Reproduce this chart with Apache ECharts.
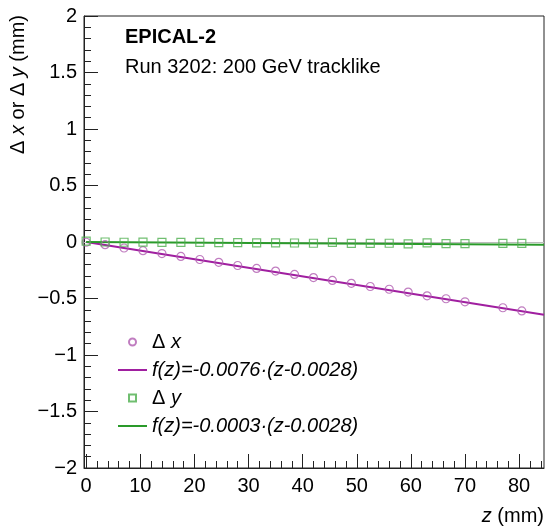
<!DOCTYPE html>
<html>
<head>
<meta charset="utf-8">
<script src="https://cdn.jsdelivr.net/npm/echarts@6/dist/echarts.min.js"></script>
<style>
  html, body { margin: 0; padding: 0; background: #fff; }
  #chart { width: 549px; height: 526px; }
</style>
</head>
<body>
<div id="chart"></div>
<script>
// Measured positions along z (mm)
const zValues = [0, 3.5, 7, 10.5, 14, 17.5, 21, 24.5, 28, 31.5, 35, 38.5,
                 42, 45.5, 49, 52.5, 56, 59.5, 63, 66.5, 70, 77, 80.5];
// Residual offsets (mm)
const dxValues = [-0.002, -0.024, -0.053, -0.077, -0.102, -0.128, -0.155, -0.180, -0.208, -0.234, -0.257, -0.287,
                  -0.315, -0.340, -0.366, -0.394, -0.418, -0.443, -0.476, -0.502, -0.529, -0.582, -0.610];
const dyValues = [0.008, 0.000, -0.002, -0.001, -0.003, -0.004, -0.004, -0.006, -0.005, -0.007, -0.008, -0.009,
                  -0.011, -0.003, -0.012, -0.012, -0.011, -0.017, -0.008, -0.014, -0.015, -0.012, -0.012];
// Linear fit parameters f(z) = slope * (z - offset)
const fitX = { slope: -0.0076, offset: 0.0028 };
const fitY = { slope: -0.0003, offset: 0.0028 };

const xRange = [-0.4, 84.6];
const xMajorTicks = [0, 10, 20, 30, 40, 50, 60, 70, 80];
const xMinorTicks = [2, 4, 6, 8, 12, 14, 16, 18, 22, 24, 26, 28, 32, 34, 36, 38, 42, 44, 46, 48,
                     52, 54, 56, 58, 62, 64, 66, 68, 72, 74, 76, 78, 82, 84];

const nameDx = 'Δ x';
const nameFitX = 'f(z)=-0.0076·(z-0.0028)';
const nameDy = 'Δ y';
const nameFitY = 'f(z)=-0.0003·(z-0.0028)';

const FONT = '"Liberation Sans", Arial, Helvetica, sans-serif';
const AXIS_COLOR = '#222';
const PURPLE_LINE = '#a01fa0';
const PURPLE_MARK = '#b05cb0';
const GREEN_LINE = '#2a9a2a';
const GREEN_MARK = '#4cae4c';

// Legend glyphs: a thin bar for fit lines, a small square for the Δy markers
const ICON_LINE = 'path://M0 0h29v2H0z';
const ICON_SQUARE = 'path://M0 0h8v8H0z';

function fitLine(fit) {
  const f = z => fit.slope * (z - fit.offset);
  return [[0, f(0)], [xRange[1], f(xRange[1])]];
}

const legendRich = {
  n: { fontFamily: FONT, fontSize: 20, color: '#000', lineHeight: 20 },
  i: { fontFamily: FONT, fontSize: 20, color: '#000', fontStyle: 'italic', lineHeight: 20 }
};

const chart = echarts.init(document.getElementById('chart'), null, { renderer: 'canvas' });

chart.setOption({
  animation: false,
  backgroundColor: '#fff',
  textStyle: { fontFamily: FONT },
  grid: {
    left: 84, right: 5, top: 16, bottom: 58,
    show: true, borderColor: AXIS_COLOR, borderWidth: 1, backgroundColor: 'transparent'
  },
  title: [
    { text: 'EPICAL-2', left: 125, top: 27, padding: 0,
      textStyle: { fontFamily: FONT, fontSize: 20, fontWeight: 'bold', color: '#000' } },
    { text: 'Run 3202: 200 GeV tracklike', left: 125, top: 57, padding: 0,
      textStyle: { fontFamily: FONT, fontSize: 20, fontWeight: 'normal', color: '#000' } }
  ],
  xAxis: [
    {
      type: 'value', min: xRange[0], max: xRange[1], position: 'bottom',
      axisLine: { show: true, onZero: false, lineStyle: { color: AXIS_COLOR, width: 1 } },
      axisTick: { show: true, inside: true, length: 14, customValues: xMajorTicks,
                  lineStyle: { color: AXIS_COLOR, width: 1 } },
      axisLabel: { customValues: xMajorTicks, fontFamily: FONT, fontSize: 20, color: '#000', margin: 8 },
      splitLine: { show: false },
      name: '{i|z}{n| (mm)}', nameLocation: 'end', nameGap: 0,
      nameTextStyle: { align: 'right', verticalAlign: 'top', padding: [38, 0, 0, 0], rich: legendRich }
    },
    {
      type: 'value', min: xRange[0], max: xRange[1], position: 'bottom',
      axisLine: { show: false, onZero: false },
      axisTick: { show: true, inside: true, length: 7, customValues: xMinorTicks,
                  lineStyle: { color: AXIS_COLOR, width: 1 } },
      axisLabel: { show: false },
      splitLine: { show: false }
    }
  ],
  yAxis: {
    type: 'value', min: -2, max: 2, interval: 0.5,
    axisLine: { show: true, onZero: false, lineStyle: { color: AXIS_COLOR, width: 1 } },
    axisTick: { show: true, inside: true, length: 14, lineStyle: { color: AXIS_COLOR, width: 1 } },
    minorTick: { show: true, splitNumber: 5, length: 7, lineStyle: { color: AXIS_COLOR, width: 1 } },
    axisLabel: {
      fontFamily: FONT, fontSize: 20, color: '#000', margin: 7,
      formatter: v => (v < 0 ? '\u2212' + String(-v) : String(v))
    },
    splitLine: { show: false }
  },
  legend: {
    orient: 'vertical', left: 118, top: 332, padding: 0,
    itemWidth: 29, itemHeight: 7, itemGap: 8, symbolKeepAspect: true,
    data: [
      { name: nameDx },
      { name: nameFitX, icon: ICON_LINE },
      { name: nameDy, icon: ICON_SQUARE },
      { name: nameFitY, icon: ICON_LINE }
    ],
    formatter: name => {
      if (name === nameDx) return '{n|Δ }{i|x}';
      if (name === nameDy) return '{n|Δ }{i|y}';
      return '{i|' + name + '}';
    },
    textStyle: { rich: legendRich, lineHeight: 20 }
  },
  graphic: [
    {
      type: 'text', x: 18, y: 15, rotation: Math.PI / 2,
      style: {
        text: '{n|Δ }{i|x}{n| or Δ }{i|y}{n| (mm)}',
        align: 'right', verticalAlign: 'middle',
        rich: legendRich
      }
    }
  ],
  series: [
    {
      name: nameFitX, type: 'line', data: fitLine(fitX),
      symbol: 'none', lineStyle: { color: PURPLE_LINE, width: 2 },
      itemStyle: { color: PURPLE_LINE, borderWidth: 0 }, z: 3
    },
    {
      name: nameFitY, type: 'line', data: fitLine(fitY),
      symbol: 'none', lineStyle: { color: GREEN_LINE, width: 2 },
      itemStyle: { color: GREEN_LINE, borderWidth: 0 }, z: 3,
      markLine: {
        silent: true, symbol: 'none', label: { show: false },
        lineStyle: { color: '#bbb', width: 1, type: 'solid' },
        data: [{ yAxis: 0 }], z: 1
      }
    },
    {
      name: nameDx, type: 'scatter',
      data: zValues.map((z, i) => [z, dxValues[i]]),
      symbol: 'circle', symbolSize: 8,
      itemStyle: { color: 'rgba(255,255,255,0)', borderColor: PURPLE_MARK, borderWidth: 1.2 }, z: 4
    },
    {
      name: nameDy, type: 'scatter',
      data: zValues.map((z, i) => [z, dyValues[i]]),
      symbol: 'rect', symbolSize: 8,
      itemStyle: { color: 'rgba(255,255,255,0)', borderColor: GREEN_MARK, borderWidth: 1.2 }, z: 4
    }
  ]
});
</script>
</body>
</html>
